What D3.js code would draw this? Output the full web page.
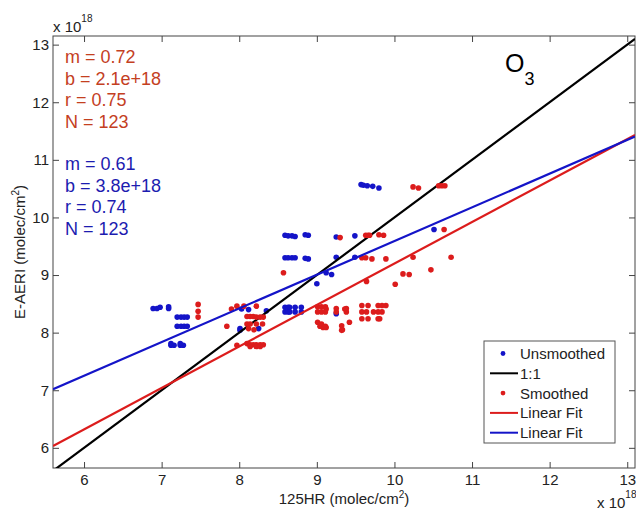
<!DOCTYPE html>
<html>
<head>
<meta charset="utf-8">
<script src="https://cdn.jsdelivr.net/npm/d3@7"></script>
<style>
  body { margin: 0; background: #fff; }
  svg { display: block; }
  text { font-family: Arial, "Liberation Sans", sans-serif; }
</style>
</head>
<body>
<svg id="chart" width="636" height="510"></svg>
<script>
// column amounts, in units of 1e18 molec/cm^2  [125HR, E-AERI]
var unsmoothed = [
  [6.89, 8.42], [6.94, 8.42], [6.98, 8.44], [7.09, 8.45], [7.09, 8.42],
  [7.20, 8.27], [7.25, 8.27], [7.29, 8.27], [7.33, 8.27],
  [7.20, 8.11], [7.25, 8.11], [7.29, 8.11], [7.33, 8.11],
  [7.12, 7.78], [7.16, 7.78], [7.24, 7.78], [7.28, 7.78], [7.12, 7.81], [7.24, 7.81],
  [8.03, 8.41], [8.12, 8.40], [8.35, 8.38], [8.01, 8.07], [8.01, 8.04], [8.25, 8.07],
  [8.59, 8.44], [8.63, 8.44], [8.65, 8.44], [8.72, 8.44], [8.80, 8.44],
  [8.59, 8.36], [8.63, 8.36], [8.65, 8.36], [8.72, 8.36], [8.80, 8.36],
  [8.59, 9.69], [8.63, 9.68], [8.68, 9.68], [8.72, 9.67], [8.85, 9.70], [8.89, 9.69],
  [8.59, 9.30], [8.63, 9.30], [8.68, 9.30], [8.72, 9.30], [8.85, 9.29], [8.89, 9.28],
  [9.00, 8.85], [9.12, 9.04], [9.19, 9.01], [9.25, 9.66], [9.25, 9.31],
  [9.49, 9.68], [9.49, 9.31], [9.25, 8.33], [10.51, 9.79],
  [9.57, 10.57], [9.60, 10.56], [9.65, 10.55], [9.72, 10.54], [9.80, 10.51]
];
var smoothed = [
  [7.47, 8.49], [7.47, 8.37], [7.47, 8.27],
  [7.84, 8.11], [7.90, 8.41], [7.97, 8.46], [8.06, 8.46], [8.22, 8.46],
  [8.10, 8.28], [8.14, 8.28], [8.18, 8.28], [8.22, 8.27], [8.27, 8.27], [8.31, 8.27],
  [8.10, 8.15], [8.14, 8.15], [8.22, 8.15], [8.30, 8.15], [8.12, 8.07], [8.19, 8.05],
  [7.97, 7.78], [8.10, 7.81], [8.14, 7.79], [8.18, 7.79], [8.22, 7.79], [8.27, 7.79],
  [8.31, 7.79], [8.14, 7.76], [8.22, 7.76], [8.27, 7.76],
  [8.57, 9.04],
  [9.01, 8.45], [9.06, 8.45], [9.11, 8.45], [9.12, 8.41], [9.01, 8.36], [9.06, 8.36],
  [9.11, 8.36], [9.25, 8.42], [9.25, 8.36], [9.38, 8.42], [9.38, 8.36], [9.36, 8.41],
  [9.08, 8.09], [9.12, 8.09], [9.04, 8.11], [9.01, 8.18], [9.06, 8.15], [9.11, 8.11],
  [9.32, 8.12], [9.33, 8.05], [9.32, 8.04], [9.42, 8.18],
  [9.58, 8.47], [9.66, 8.47], [9.79, 8.47], [9.84, 8.47], [9.89, 8.47],
  [9.58, 8.36], [9.64, 8.36], [9.73, 8.36], [9.79, 8.36], [9.84, 8.36],
  [9.58, 8.24], [9.66, 8.24], [9.79, 8.24], [9.81, 8.24],
  [9.64, 8.89], [10.01, 8.84], [10.11, 9.02], [10.19, 9.01], [10.47, 9.09],
  [9.58, 9.30], [9.63, 9.30], [9.71, 9.28], [9.89, 9.28], [10.24, 9.31], [10.73, 9.31],
  [9.30, 9.65], [9.63, 9.69], [9.66, 9.69], [9.68, 9.69], [9.80, 9.70], [9.86, 9.69],
  [10.64, 9.79],
  [10.24, 10.53], [10.31, 10.51], [10.57, 10.55], [10.61, 10.55], [10.65, 10.55]
];

var xTicks = [6, 7, 8, 9, 10, 11, 12, 13];
var yTicks = [6, 7, 8, 9, 10, 11, 12, 13];

// fitted lines, y = m*x + b (b in 1e18)
var smoothedFit = [0.72, 2.0];
var unsmoothedFit = [0.585, 3.74];

var smoothedStats = ["m = 0.72", "b = 2.1e+18", "r = 0.75", "N = 123"];
var unsmoothedStats = ["m = 0.61", "b = 3.8e+18", "r = 0.74", "N = 123"];

var legendLabels = ["Unsmoothed", "1:1", "Smoothed", "Linear Fit", "Linear Fit"];
var legendKinds = ["dot", "line", "dot", "line", "line"];

var BLUE = "#1414c8", RED = "#dc1c1c", BLACK = "#000";
var legendColors = [BLUE, BLACK, RED, RED, BLUE];

var MARGIN = { left: 53, top: 36, right: 1, bottom: 42 };
var W = 636, H = 510;
var pw = W - MARGIN.left - MARGIN.right;
var ph = H - MARGIN.top - MARGIN.bottom;

var x = d3.scaleLinear().domain([5.6, 13.1]).range([0, pw]);
var y = d3.scaleLinear().domain([5.65, 13.15]).range([ph, 0]);

var svg = d3.select("#chart");
var g = svg.append("g").attr("transform", "translate(" + MARGIN.left + "," + MARGIN.top + ")");

svg.append("defs").append("clipPath").attr("id", "plot-clip")
  .append("rect").attr("width", pw).attr("height", ph);

// axes: labels bottom/left, ticks mirrored on all four sides, pointing in
function styleAxis(sel) {
  sel.select(".domain").remove();
  sel.selectAll(".tick line").attr("stroke", "#444");
  sel.selectAll(".tick text").attr("fill", "#222").style("font-size", "15px");
}

g.append("g").attr("transform", "translate(0," + ph + ")")
  .call(d3.axisBottom(x).tickValues(xTicks).tickFormat(d3.format("d")).tickSizeInner(-6).tickSizeOuter(0).tickPadding(6))
  .call(styleAxis);
g.append("g")
  .call(d3.axisLeft(y).tickValues(yTicks).tickFormat(d3.format("d")).tickSizeInner(-6).tickSizeOuter(0).tickPadding(4))
  .call(styleAxis);
g.append("g")
  .call(d3.axisTop(x).tickValues(xTicks).tickFormat("").tickSizeInner(-6).tickSizeOuter(0))
  .call(styleAxis);
g.append("g").attr("transform", "translate(" + pw + ",0)")
  .call(d3.axisRight(y).tickValues(yTicks).tickFormat("").tickSizeInner(-6).tickSizeOuter(0))
  .call(styleAxis);

g.append("rect").attr("width", pw).attr("height", ph)
  .attr("fill", "none").attr("stroke", "#444").attr("stroke-width", 1);

var plot = g.append("g").attr("clip-path", "url(#plot-clip)");

function fitLine(f) {
  return x.domain().map(function (v) { return [v, f[0] * v + f[1]]; });
}
var line = d3.line().x(function (d) { return x(d[0]); }).y(function (d) { return y(d[1]); });

plot.selectAll(".unsmoothed").data(unsmoothed).enter().append("circle")
  .attr("class", "unsmoothed")
  .attr("cx", function (d) { return x(d[0]); })
  .attr("cy", function (d) { return y(d[1]); })
  .attr("r", 2.8).attr("fill", BLUE);

plot.append("path").datum(fitLine([1, 0])).attr("d", line)
  .attr("fill", "none").attr("stroke", BLACK).attr("stroke-width", 2.2);

plot.selectAll(".smoothed").data(smoothed).enter().append("circle")
  .attr("class", "smoothed")
  .attr("cx", function (d) { return x(d[0]); })
  .attr("cy", function (d) { return y(d[1]); })
  .attr("r", 2.8).attr("fill", RED);

plot.append("path").datum(fitLine(smoothedFit)).attr("d", line)
  .attr("fill", "none").attr("stroke", RED).attr("stroke-width", 2.2);
plot.append("path").datum(fitLine(unsmoothedFit)).attr("d", line)
  .attr("fill", "none").attr("stroke", BLUE).attr("stroke-width", 2.2);

// fit statistics
function statBlock(lines, top, color) {
  g.selectAll(null).data(lines).enter().append("text")
    .attr("x", 12).attr("y", function (d, i) { return top + i * 21.7; })
    .attr("fill", color).style("font-size", "18px")
    .text(function (d) { return d; });
}
statBlock(smoothedStats, 27, "#c4401f");
statBlock(unsmoothedStats, 134, "#1c1cb0");

// species label
var species = g.append("text").attr("x", 452).attr("y", 36).style("font-size", "25px").attr("fill", "#000");
species.append("tspan").text("O");
species.append("tspan").attr("dy", 13).style("font-size", "18px").text("3");

// exponent labels
function exponent(px, py) {
  var t = svg.append("text").attr("x", px).attr("y", py).attr("fill", "#222").style("font-size", "15px");
  t.append("tspan").text("x 10");
  t.append("tspan").attr("dy", -10).style("font-size", "10px").text("18");
}
exponent(53, 32);
exponent(597, 508);

// axis titles
var xt = svg.append("text").attr("x", MARGIN.left + pw / 2).attr("y", 504)
  .attr("text-anchor", "middle").attr("fill", "#222").style("font-size", "15px");
xt.append("tspan").text("125HR (molec/cm");
xt.append("tspan").attr("dy", -6).style("font-size", "10px").text("2");
xt.append("tspan").attr("dy", 6).text(")");

var yt = svg.append("text").attr("transform", "translate(25," + (MARGIN.top + ph / 2) + ") rotate(-90)")
  .attr("text-anchor", "middle").attr("fill", "#222").style("font-size", "15px");
yt.append("tspan").text("E-AERI (molec/cm");
yt.append("tspan").attr("dy", -6).style("font-size", "10px").text("2");
yt.append("tspan").attr("dy", 6).text(")");

// legend
var lg = svg.append("g").attr("transform", "translate(484,341)");
lg.append("rect").attr("width", 131).attr("height", 102)
  .attr("fill", "#fff").attr("stroke", "#555").attr("stroke-width", 1);
var rows = lg.selectAll(".row").data(legendLabels).enter().append("g")
  .attr("transform", function (d, i) { return "translate(0," + (12.5 + i * 19.8) + ")"; });
rows.each(function (d, i) {
  var r = d3.select(this);
  if (legendKinds[i] === "dot") {
    r.append("circle").attr("cx", 19).attr("cy", 0).attr("r", 2.4).attr("fill", legendColors[i]);
  } else {
    r.append("line").attr("x1", 6).attr("x2", 34).attr("y1", 0).attr("y2", 0)
      .attr("stroke", legendColors[i]).attr("stroke-width", 2);
  }
  r.append("text").attr("x", 36).attr("y", 5.5).attr("fill", "#222").style("font-size", "15px").text(d);
});
</script>
</body>
</html>
